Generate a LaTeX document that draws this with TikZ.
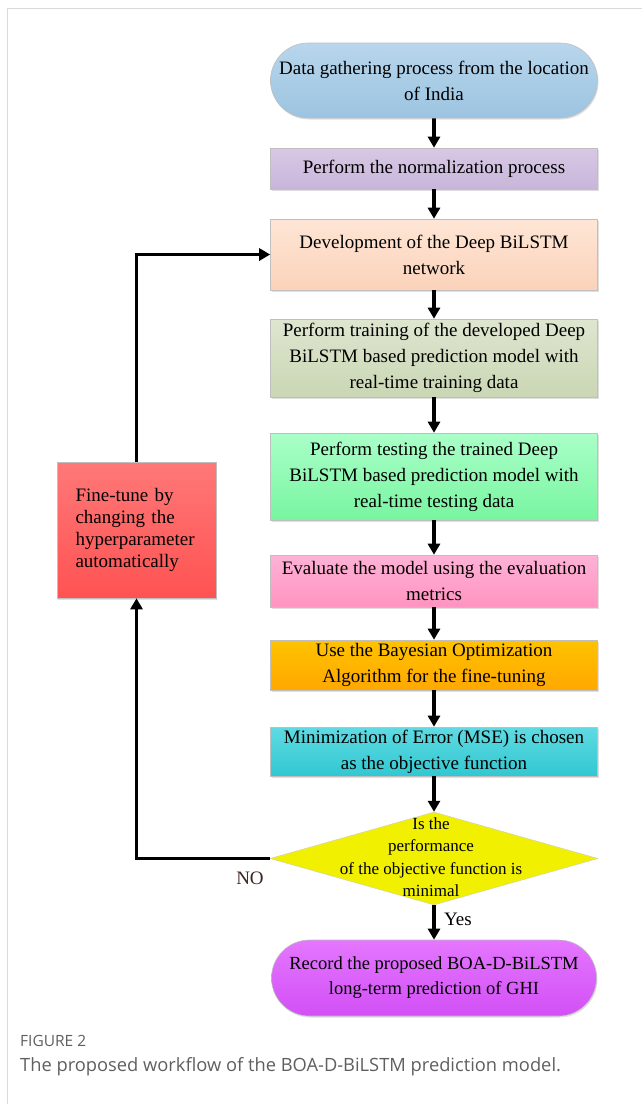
\documentclass[tikz,border=0pt]{standalone}
\usepackage{fontspec}
\setmainfont{Liberation Serif}
\newfontfamily\capfont{Open Sans}
\usepackage{tikz}
\usetikzlibrary{positioning}
\usetikzlibrary{arrows.meta}
\usetikzlibrary{shapes.geometric,shapes.misc}
\usetikzlibrary{shadows}

% box colours (top / bottom of each gradient)
\definecolor{dataTop}{RGB}{184,214,236}
\definecolor{dataBot}{RGB}{156,196,224}
\definecolor{normTop}{RGB}{216,200,228}
\definecolor{normBot}{RGB}{200,182,218}
\definecolor{devTop}{RGB}{254,230,214}
\definecolor{devBot}{RGB}{251,210,186}
\definecolor{trainTop}{RGB}{222,230,208}
\definecolor{trainBot}{RGB}{202,214,180}
\definecolor{testTop}{RGB}{170,255,200}
\definecolor{testBot}{RGB}{120,245,160}
\definecolor{evalTop}{RGB}{255,178,214}
\definecolor{evalBot}{RGB}{255,148,192}
\definecolor{bayesTop}{RGB}{255,194,0}
\definecolor{bayesBot}{RGB}{255,168,0}
\definecolor{mseTop}{RGB}{96,218,226}
\definecolor{mseBot}{RGB}{48,200,210}
\definecolor{decFill}{RGB}{240,240,0}
\definecolor{recTop}{RGB}{228,118,255}
\definecolor{recBot}{RGB}{210,80,245}
\definecolor{tuneTop}{RGB}{255,120,120}
\definecolor{tuneBot}{RGB}{255,82,82}
\definecolor{capGray}{RGB}{95,95,95}
\definecolor{noBrown}{RGB}{60,35,30}

\begin{document}
\begin{tikzpicture}[x=1pt, y=-1pt,
	stepbox/.style={rectangle, draw=black!25, line width=0.6pt, inner sep=0pt,
		minimum width=327pt, align=center, font=\fontsize{19}{26}\selectfont,
		drop shadow={shadow xshift=1pt, shadow yshift=-1.5pt, opacity=.25}},
	pill/.style={stepbox, rounded rectangle},
	flow/.style={line width=3.6pt, -{Triangle[length=11pt,width=12pt]}}
	]

	\useasboundingbox (0,0) rectangle (642,1104);

	% light frame of the figure panel
	\draw[black!15, line width=1pt] (7,1104) -- (7,8) -- (642,8);

	% main column of steps
	\node[pill, top color=dataTop, bottom color=dataBot, minimum height=75pt] (data) at (434,80.5)
		{Data gathering process from the location\\ of India};
	\node[stepbox, top color=normTop, bottom color=normBot, minimum height=41pt] (norm) at (434,168.5)
		{Perform the normalization process};
	\node[stepbox, top color=devTop, bottom color=devBot, minimum height=71pt] (dev) at (434,254.5)
		{Development of the Deep BiLSTM\\ network};
	\node[stepbox, top color=trainTop, bottom color=trainBot, minimum height=78pt] (train) at (434,358)
		{Perform training of the developed Deep\\ BiLSTM based prediction model with\\ real-time training data};
	\node[stepbox, top color=testTop, bottom color=testBot, minimum height=87pt] (test) at (434,476.5)
		{Perform testing the trained Deep\\ BiLSTM based prediction model with\\ real-time testing data};
	\node[stepbox, top color=evalTop, bottom color=evalBot, minimum height=52pt] (eval) at (434,581)
		{Evaluate the model using the evaluation\\ metrics};
	\node[stepbox, top color=bayesTop, bottom color=bayesBot, minimum height=50pt] (bayes) at (434,665)
		{Use the Bayesian Optimization\\ Algorithm for the fine-tuning};
	\node[stepbox, top color=mseTop, bottom color=mseBot, minimum height=49pt] (mse) at (434,751.5)
		{Minimization of Error (MSE) is chosen\\ as the objective function};

	% decision (text overflows the diamond, so it is a node of its own)
	\node[diamond, draw=black!20, fill=decFill, inner sep=0pt, minimum width=328pt, minimum height=93pt] (dec) at (434,858.5) {};
	\node[align=center, inner sep=0pt, font=\fontsize{17}{22.5}\selectfont] (decText) at (431,857)
		{Is the\\ performance\\ of the objective function is\\ minimal};

	\node[pill, top color=recTop, bottom color=recBot, minimum width=325pt, minimum height=76pt,
		font=\fontsize{18.5}{25}\selectfont] (rec) at (434,978)
		{Record the proposed BOA-D-BiLSTM\\ long-term prediction of GHI};

	% feedback box
	\node[stepbox, top color=tuneTop, bottom color=tuneBot, minimum width=159pt, minimum height=136pt,
		text width=122pt, align=left, font=\fontsize{19}{22}\selectfont] (tune) at (136.5,530)
		{Fine-tune by\\ changing the\\ hyperparameter\\ automatically};

	% arrows down the column
	\draw[flow] (data) -- (norm);
	\draw[flow] (norm) -- (dev);
	\draw[flow] (dev) -- (train);
	\draw[flow] (train) -- (test);
	\draw[flow] (test) -- (eval);
	\draw[flow] (eval) -- (bayes);
	\draw[flow] (bayes) -- (mse);
	\draw[flow] (mse) -- (dec);
	\draw[flow] (dec) -- (rec);

	% NO branch back to the network design
	\draw[flow] (dec.west) -| (tune.south);
	\draw[flow] (tune.north) |- (dev.west);

	\node[font=\fontsize{19}{22}\selectfont, text=noBrown] (no) at (250,878) {NO};
	\node[font=\fontsize{19}{22}\selectfont] (yes) at (458,919) {Yes};

	% caption
	\node[anchor=base west, inner sep=0pt, font=\capfont\fontsize{15.5}{18}\selectfont, text=capGray] (figNo) at (20,1046) {FIGURE 2};
	\node[anchor=base west, inner sep=0pt, font=\capfont\fontsize{18.3}{22}\selectfont, text=capGray] (caption) at (20,1071)
		{The proposed workflow of the BOA-D-BiLSTM prediction model.};

\end{tikzpicture}
\end{document}
